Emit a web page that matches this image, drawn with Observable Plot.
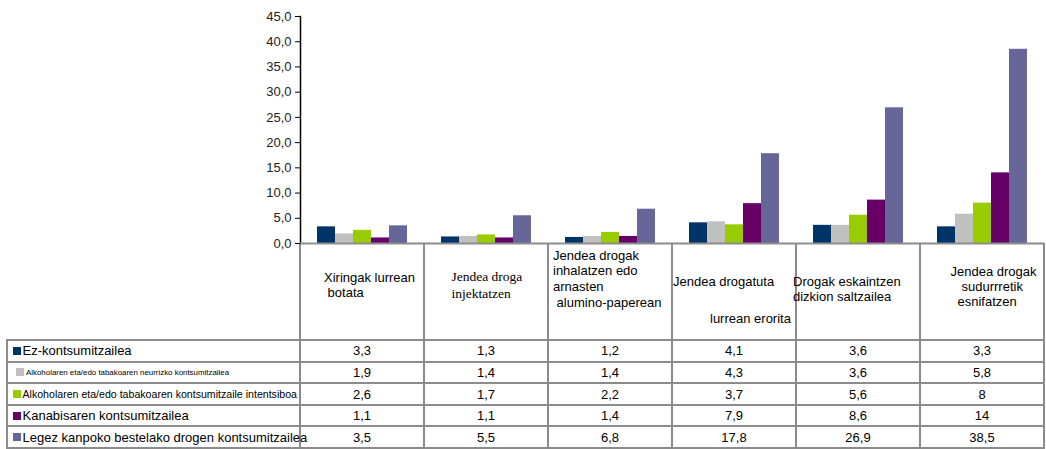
<!DOCTYPE html>
<html><head><meta charset="utf-8">
<script src="https://cdn.jsdelivr.net/npm/d3@7"></script>
<script src="https://cdn.jsdelivr.net/npm/@observablehq/plot@0.6"></script>
<style>
body{margin:0;background:#fff;font-family:"Liberation Sans",Arial,sans-serif;}
#wrap{position:relative;width:1046px;height:449px;overflow:hidden;}
#wrap svg{position:absolute;left:0;top:0;z-index:2;}
.ln{position:absolute;background:#8c8c8c;}
.t{position:absolute;white-space:pre;font-size:13px;line-height:15px;color:#000;}
.c{position:absolute;text-align:center;font-size:13px;line-height:15px;color:#000;}
.sw{position:absolute;}
</style></head><body><div id="wrap"></div>
<script>
// ---- data ----
const categories = [
  "Xiringak lurrean botata",
  "Jendea droga injektatzen",
  "Jendea drogak inhalatzen edo arnasten alumino-paperean",
  "Jendea drogatuta lurrean erorita",
  "Drogak eskaintzen dizkion saltzailea",
  "Jendea drogak sudurrretik esnifatzen"
];
const headerLines = [
  ["Xiringak lurrean", " botata"],
  ["Jendea droga", "injektatzen"],
  ["Jendea drogak", "inhalatzen edo", "arnasten", " alumino-paperean"],
  ["Jendea drogatuta", "lurrean erorita"],
  ["Drogak eskaintzen", "dizkion saltzailea"],
  ["Jendea drogak", "sudurrretik", "esnifatzen"]
];
const series = [
  "Ez-kontsumitzailea",
  "Alkoholaren eta/edo tabakoaren neurrizko kontsumitzailea",
  "Alkoholaren eta/edo tabakoaren kontsumitzaile intentsiboa",
  "Kanabisaren kontsumitzailea",
  "Legez kanpoko bestelako drogen kontsumitzailea"
];
const ezKontsumitzailea = [3.3, 1.3, 1.2, 4.1, 3.6, 3.3];
const neurrizkoa       = [1.9, 1.4, 1.4, 4.3, 3.6, 5.8];
const intentsiboa      = [2.6, 1.7, 2.2, 3.7, 5.6, 8];
const kanabisa         = [1.1, 1.1, 1.4, 7.9, 8.6, 14];
const legezKanpokoak   = [3.5, 5.5, 6.8, 17.8, 26.9, 38.5];
const seriesValues = [ezKontsumitzailea, neurrizkoa, intentsiboa, kanabisa, legezKanpokoak];
const yTicks = [0, 5, 10, 15, 20, 25, 30, 35, 40, 45];

// ---- styles ----
const colors = ["#003366", "#C0C0C0", "#99CC00", "#660066", "#666699"];
const comma = v => String(v).replace(".", ",");

const data = series.flatMap((s, i) => categories.map((c, j) => ({series: s, category: c, value: seriesValues[i][j]})));

const chart = Plot.plot({
  width: 1046, height: 260,
  marginLeft: 298, marginRight: 1, marginTop: 16, marginBottom: 17,
  style: {fontFamily: "'Liberation Sans', Arial, sans-serif", fontSize: "13px", color: "#222", background: "transparent"},
  fx: {domain: categories, padding: 0, axis: null},
  x: {domain: series, paddingInner: 0, paddingOuter: 0.776, axis: null},
  y: {domain: [0, 45], axis: null},
  color: {domain: series, range: colors},
  marks: [
    Plot.barY(data, {fx: "category", x: "series", y: "value", fill: "series"}),
    Plot.axisY({ticks: yTicks, label: null, tickSize: 5, tickPadding: 4, tickFormat: d => d.toFixed(1).replace(".", ","), stroke: "#000", fill: "#222", facetAnchor: "left"}),
    Plot.frame({anchor: "left", stroke: "#000", strokeWidth: 1.5, facetAnchor: "left"}),
    Plot.ruleY([0], {stroke: "#8c8c8c", strokeWidth: 2})
  ]
});
const wrap = document.getElementById("wrap");
wrap.appendChild(chart);

// ---- data table aligned to the fx scale ----
const fx = chart.scale("fx");
const bw = fx.bandwidth;
const lefts = categories.map(c => fx.apply(c));
const tableTop = 243, headerBottom = 340, rowH = 21.6, labelLeft = 7;
const right = lefts[lefts.length - 1] + bw;
function el(cls, css, text) {
  const d = document.createElement("div");
  d.className = cls;
  Object.assign(d.style, css);
  if (text != null) d.textContent = text;
  wrap.appendChild(d);
  return d;
}
// grid
lefts.concat([right]).forEach(x => el("ln", {left: (x - 1) + "px", top: tableTop + "px", width: "2px", height: (448 - tableTop) + "px"}));
el("ln", {left: (labelLeft - 1) + "px", top: headerBottom + "px", width: "2px", height: (448 - headerBottom) + "px"});
for (let i = 0; i <= series.length; i++) {
  const y = headerBottom + i * rowH;
  el("ln", {left: (labelLeft - 1) + "px", top: (y - 1) + "px", width: (right - labelLeft + 2) + "px", height: "2px"});
}
// header texts (layout offsets)
const headerLayout = [
  {font: "'Liberation Sans', Arial", size: 13, lines: [[24, 277], [24, 292]]},
  {font: "'Liberation Serif', 'Times New Roman', serif", size: 13.5, lines: [[27.5, 276], [27.5, 293]]},
  {font: "'Liberation Sans', Arial", size: 13, lines: [[5, 255], [5, 270.7], [5, 286], [5, 302]]},
  {font: "'Liberation Sans', Arial", size: 13, lines: [[1, 281], [38, 318]]},
  {font: "'Liberation Sans', Arial", size: 13, lines: [[-3, 281], [-3, 296]]},
  {font: "'Liberation Sans', Arial", size: 13, lines: [[30.5, 271], [41.5, 286], [37.5, 301.5]]}
];
headerLines.forEach((lines, j) => {
  const L = headerLayout[j];
  lines.forEach((txt, k) => {
    const [dx, cy] = L.lines[k];
    el("t", {left: (lefts[j] + dx) + "px", top: (cy - 7.5) + "px", fontFamily: L.font, fontSize: L.size + "px"}, txt);
  });
});
// row labels
const rowLabelSize = [13, 7.9, 10.6, 13, 13];
const swatchLeft = [13, 16, 13, 13, 13];
const textLeft = [22.5, 26, 22.5, 22.5, 22.5];
series.forEach((s, i) => {
  const top = headerBottom + i * rowH;
  const cy = top + rowH / 2;
  el("sw", {left: swatchLeft[i] + "px", top: (cy - 4) + "px", width: "8px", height: "8px", background: colors[i]});
  el("t", {left: textLeft[i] + "px", top: (cy - 7.5) + "px", fontSize: rowLabelSize[i] + "px", zIndex: 3}, s);
  seriesValues[i].forEach((v, j) => {
    el("c", {left: lefts[j] + "px", width: bw + "px", top: (cy - 7.5) + "px"}, comma(v));
  });
});
</script></body></html>
